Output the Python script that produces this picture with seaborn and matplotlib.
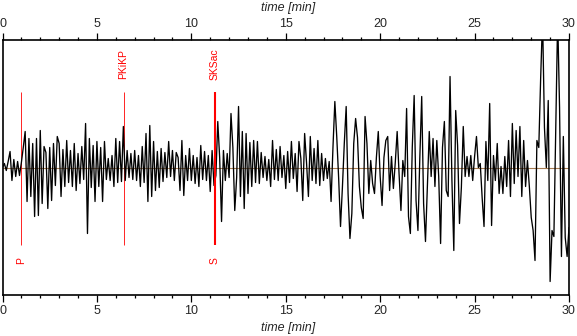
import numpy as np
import pandas as pd
import matplotlib
matplotlib.use("Agg")
import matplotlib.pyplot as plt
import seaborn as sns

# Vertical-component seismogram, 30 minutes, one sample every 0.1 min (amplitude in counts)
sample_interval_min = 0.1
amplitude = [
    0, 4, -3, 6, 16, -13, 8, -9, 6, -8, 5,
    20, 36, -34, 29, -29, 24, -49, 29, -48, 37,
    -36, 21, 15, -41, 20, -33, 24, -18, 31, 24,
    -29, 18, -19, 27, -15, 17, -19, 24, -23, 14,
    -16, 21, -12, 44, -66, 29, -20, 22, -34, 26,
    -19, 20, -34, 26, -12, 9, -13, 12, -19, 29,
    -15, 26, -14, 41, -13, 17, -10, 14, -12, 17,
    -13, 12, -19, 21, -15, 34, -34, 42, -29, 26,
    -23, 16, -20, 19, -14, 15, -10, 26, -9, 17,
    -13, 15, 10, -23, 27, -28, 12, -13, 19, -13,
    12, -16, 10, -19, 22, -12, 16, -13, 12, -24,
    17, -18, -8, 46, 10, -54, 17, -13, 14, -10,
    54, 20, -43, -10, 61, -29, 36, -41, 34, -26,
    25, -19, 27, -15, 26, -16, 15, -10, 11, -13,
    8, -19, 27, -12, 18, -13, 21, -10, 12, -21,
    16, -15, 26, -11, 14, -24, 26, 9, -33, 34,
    5, -29, 31, -13, 19, -16, 27, -18, 14, -13,
    9, -11, 6, -34, 20, 66, 31, -10, -59, -20,
    24, 61, -26, -71, -46, 24, 49, 30, -19, -40,
    -51, 51, 24, -26, 7, -16, -26, 10, 36, -9,
    -38, 10, 27, 31, -23, 11, -21, 5, 36, -6,
    -43, 7, -9, 59, -49, -66, 20, 72, -33, -63,
    10, 71, -36, -74, -20, 36, -9, 29, -19, 27,
    -9, -76, 20, 46, -23, -29, 91, -13, -83, 57,
    22, -56, -20, 41, -9, 11, -9, 12, -13, 11,
    31, 0, 4, -30, -59, 26, -13, 64, -58, 12,
    -13, 24, -26, 1, -26, 11, -19, 27, -29, 44,
    -16, 37, -9, 41, -29, 27, -19, 7, -19, -50,
    -63, -93, 27, 20, 90, 150, 40, 0, 67, -114,
    -63, -69, 40, 150, 60, -89, 31, -70, -89, -60,
]

# Phase arrivals (minutes after origin)
phase_names_top = ["PKiKP", "SKSac"]
phase_times_top = [6.41, 11.25]
phase_names_bottom = ["P", "S"]
phase_times_bottom = [1.0, 11.25]
marker_times = [1.0, 6.41, 11.25]
marker_widths = [0.6, 0.6, 1.5]

time_min = np.arange(len(amplitude)) * sample_interval_min
trace = pd.DataFrame({"time": time_min, "amplitude": amplitude})

sns.set_style("white")
plt.rcParams["font.family"] = ["Liberation Sans", "DejaVu Sans"]

W, H = 577, 336
fig = plt.figure(figsize=(W / 100, H / 100), dpi=100)
ax = fig.add_axes([2.5 / W, 41 / H, 566.5 / W, 255 / H])

red = "#ff0000"

# zero line
ax.axhline(0, color="#a67c52", lw=0.8, zorder=1)

# phase markers
for t, w in zip(marker_times, marker_widths):
    ax.plot([t, t], [-77, 76], color=red, lw=w, zorder=3 if w > 1 else 1.5,
            solid_capstyle="butt")

sns.lineplot(data=trace, x="time", y="amplitude", ax=ax, color="black",
             lw=0.95, zorder=2, estimator=None, sort=False)

for name, t in zip(phase_names_top, phase_times_top):
    ax.text(t, 103, name, rotation=90, color=red, fontsize=7.5,
            ha="center", va="center")
for name, t in zip(phase_names_bottom, phase_times_bottom):
    ax.text(t, -93, name, rotation=90, color=red, fontsize=7.5,
            ha="center", va="center")

ax.set_xlim(0, 30)
ax.set_ylim(-127.5, 127.5)
ax.set_xticks([0, 5, 10, 15, 20, 25, 30])
ax.set_xticks(np.arange(0, 31, 1), minor=True)
ax.set_yticks([])
ax.set_xlabel("")
ax.set_ylabel("")
ax.tick_params(axis="x", which="both", top=True, bottom=True,
               labeltop=True, labelbottom=True, direction="out",
               color="black", width=0.9, labelsize=9, pad=2)
ax.tick_params(axis="x", which="major", length=5)
ax.tick_params(axis="x", which="minor", length=2.5)
for s in ax.spines.values():
    s.set_visible(True)
    s.set_color("black")
    s.set_linewidth(1.2)

fig.text(0.5, 1 - 8 / H, "time [min]", ha="center", va="center",
         fontsize=9, style="italic")
fig.text(0.5, 1 - 328 / H, "time [min]", ha="center", va="center",
         fontsize=9, style="italic")

fig.savefig("out.png", dpi=100, facecolor="white")
